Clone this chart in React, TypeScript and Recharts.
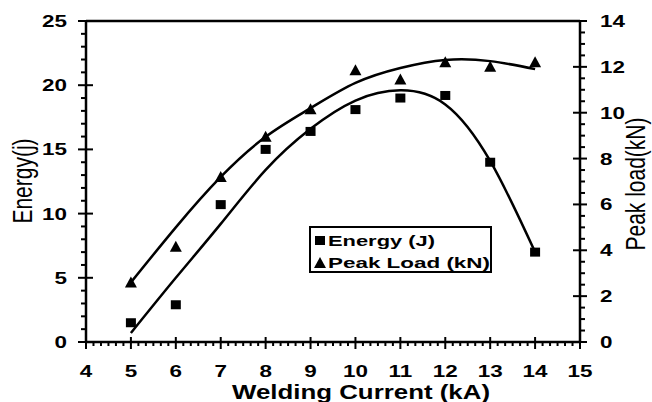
import React from 'react'
import { ComposedChart, Line, ReferenceLine, Scatter, XAxis, YAxis } from 'recharts'

// welding current, kA
const current = [5, 6, 7, 8, 9, 10, 11, 12, 13, 14]
// measured points
const energy = [1.5, 2.9, 10.7, 15.0, 16.4, 18.1, 19.0, 19.2, 14.0, 7.0]
const peakLoad = [2.6, 4.15, 7.2, 8.95, 10.15, 11.85, 11.45, 12.2, 12.0, 12.2]
// trend curves
const energyTrend = [0.7, 5.0, 9.2, 13.4, 16.6, 18.8, 19.6, 18.5, 14.1, 7.0]
const loadTrend = [2.6, 5.0, 7.2, 8.95, 10.2, 11.3, 11.95, 12.3, 12.25, 11.9]

const xMajor = [4, 5, 6, 7, 8, 9, 10, 11, 12, 13, 14, 15]
const leftMajor = [0, 5, 10, 15, 20, 25]
const rightMajor = [0, 2, 4, 6, 8, 10, 12, 14]

const subdivide = (major: number[], parts: number) => {
  const out: number[] = []
  for (let i = 0; i < major.length - 1; i++) {
    const step = (major[i + 1] - major[i]) / parts
    for (let k = 0; k < parts; k++) out.push(major[i] + k * step)
  }
  out.push(major[major.length - 1])
  return out
}

const xTicks = subdivide(xMajor, 6)
const leftTicks = subdivide(leftMajor, 5)
const rightTicks = subdivide(rightMajor, 4)

const data = current.map((x, i) => ({
  x,
  energy: energy[i],
  load: peakLoad[i],
  energyFit: energyTrend[i],
  loadFit: loadTrend[i],
}))

const FONT = '"Liberation Sans", Arial, sans-serif'
const isMajor = (v: number, list: number[]) => list.some((m) => Math.abs(m - v) < 1e-6)

const tickText = {
  fontFamily: FONT,
  fontSize: 17,
  fontWeight: 700,
  fill: '#000',
}

const LeftTick = ({ x, y, payload }: any) => {
  const major = isMajor(payload.value, leftMajor)
  return (
    <g>
      <line x1={major ? x - 8 : x - 5} x2={major ? x + 7 : x} y1={y} y2={y} stroke="#000" strokeWidth={2} />
      {major && (
        <text transform={`translate(${x - 19},${y}) scale(1.32,1)`} textAnchor="end" dominantBaseline="central" style={tickText}>
          {payload.value}
        </text>
      )}
    </g>
  )
}

const RightTick = ({ x, y, payload }: any) => {
  const major = isMajor(payload.value, rightMajor)
  return (
    <g>
      <line x1={major ? x - 7 : x} x2={major ? x + 7 : x + 5} y1={y} y2={y} stroke="#000" strokeWidth={2} />
      {major && (
        <text transform={`translate(${x + 20},${y}) scale(1.32,1)`} textAnchor="start" dominantBaseline="central" style={tickText}>
          {payload.value}
        </text>
      )}
    </g>
  )
}

const BottomTick = ({ x, y, payload }: any) => {
  const major = isMajor(payload.value, xMajor)
  return (
    <g>
      <line x1={x} x2={x} y1={major ? y - 5 : y} y2={major ? y + 7 : y + 4} stroke="#000" strokeWidth={2} />
      {major && (
        <text transform={`translate(${x},${y + 29}) scale(1.32,1)`} textAnchor="middle" dominantBaseline="central" style={tickText}>
          {Math.round(payload.value)}
        </text>
      )}
    </g>
  )
}

const SquareMark = ({ cx, cy }: any) => <rect x={cx - 5} y={cy - 4.5} width={10} height={9} fill="#000" />
const TriangleMark = ({ cx, cy }: any) => (
  <polygon points={`${cx},${cy - 6} ${cx - 6},${cy + 5} ${cx + 6},${cy + 5}`} fill="#000" />
)

const XTitle = ({ viewBox }: any) => (
  <text
    x={viewBox.x + viewBox.width / 2 + 28}
    y={viewBox.y + 49}
    textAnchor="middle"
    dominantBaseline="central"
    textLength={258}
    lengthAdjust="spacingAndGlyphs"
    style={{ fontFamily: FONT, fontSize: 21, fontWeight: 700, fill: '#000' }}
  >
    Welding Current (kA)
  </text>
)

const LeftTitle = () => (
  <text
    transform="translate(32,181) scale(1.3,1) rotate(-90)"
    textAnchor="middle"
    style={{ fontFamily: FONT, fontSize: 21, fill: '#000' }}
  >
    Energy(j)
  </text>
)

const RightTitle = () => (
  <text
    transform="translate(645,184) scale(1.3,1) rotate(-90)"
    textAnchor="middle"
    style={{ fontFamily: FONT, fontSize: 21, fill: '#000' }}
  >
    Peak load(kN)
  </text>
)

const legendText = { fontFamily: FONT, fontSize: 15.5, fontWeight: 700, fill: '#000' }

export default function App() {
  return (
    <div style={{ position: 'absolute', left: 0, top: 0, width: 652, height: 402, background: '#fff' }}>
      <ComposedChart width={652} height={402} data={data} margin={{ top: 21, right: 0, bottom: 0, left: 0 }}>
        <XAxis
          dataKey="x"
          type="number"
          domain={[4, 15]}
          ticks={xTicks}
          interval={0}
          height={60}
          tickSize={0}
          tickMargin={0}
          tickLine={false}
          tick={<BottomTick />}
          axisLine={{ stroke: '#000', strokeWidth: 2.5 }}
          label={<XTitle />}
        />
        <YAxis
          yAxisId="left"
          type="number"
          domain={[0, 25]}
          ticks={leftTicks}
          interval={0}
          width={86}
          tickSize={0}
          tickMargin={0}
          tickLine={false}
          tick={<LeftTick />}
          axisLine={{ stroke: '#000', strokeWidth: 2.5 }}
          label={<LeftTitle />}
        />
        <YAxis
          yAxisId="right"
          orientation="right"
          type="number"
          domain={[0, 14]}
          ticks={rightTicks}
          interval={0}
          width={72}
          tickSize={0}
          tickMargin={0}
          tickLine={false}
          tick={<RightTick />}
          axisLine={{ stroke: '#000', strokeWidth: 2.5 }}
          label={<RightTitle />}
        />
        <ReferenceLine yAxisId="left" y={25} stroke="#000" strokeWidth={2.5} />
        <Line
          yAxisId="left"
          dataKey="energyFit"
          type="natural"
          dot={false}
          stroke="#000"
          strokeWidth={2.5}
          isAnimationActive={false}
        />
        <Line
          yAxisId="right"
          dataKey="loadFit"
          type="natural"
          dot={false}
          stroke="#000"
          strokeWidth={2.5}
          isAnimationActive={false}
        />
        <Scatter yAxisId="left" dataKey="energy" shape={<SquareMark />} isAnimationActive={false} />
        <Scatter yAxisId="right" dataKey="load" shape={<TriangleMark />} isAnimationActive={false} />
      </ComposedChart>

      {/* legend box */}
      <svg width={183} height={47} style={{ position: 'absolute', left: 309, top: 226 }}>
        <rect x={1} y={1} width={181} height={45} fill="#fff" stroke="#000" strokeWidth={2} />
        <rect x={6} y={10} width={10} height={9} fill="#000" />
        <text x={19} y={14} dominantBaseline="central" textLength={107} lengthAdjust="spacingAndGlyphs" style={legendText}>
          Energy (J)
        </text>
        <polygon points="11,31 5,42 17,42" fill="#000" />
        <text x={19} y={36} dominantBaseline="central" textLength={162} lengthAdjust="spacingAndGlyphs" style={legendText}>
          Peak Load (kN)
        </text>
      </svg>
    </div>
  )
}
